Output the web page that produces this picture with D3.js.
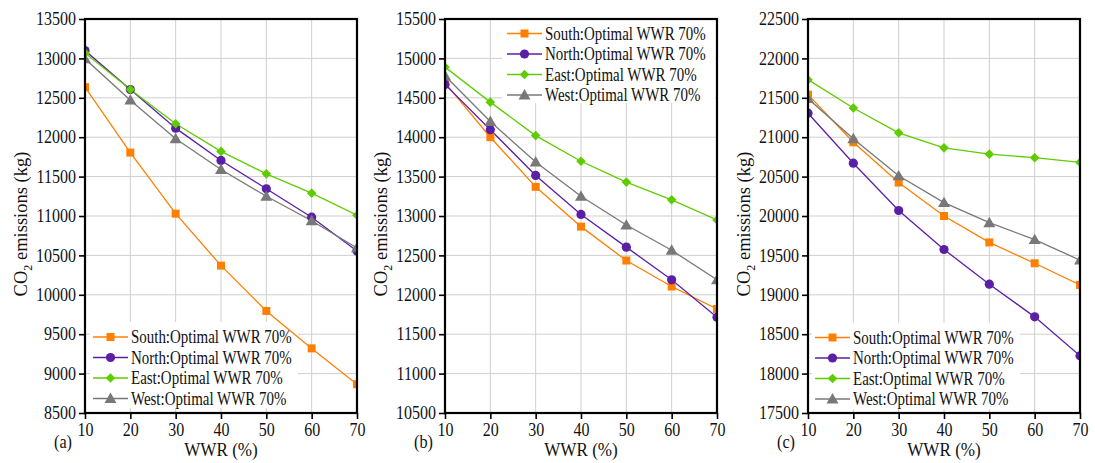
<!DOCTYPE html>
<html>
<head>
<meta charset="utf-8">
<script src="https://cdn.jsdelivr.net/npm/d3@7"></script>
<style>
  body { margin: 0; background: #fff; }
</style>
</head>
<body>
<svg id="chart" width="1095" height="463"></svg>
<script>
// WWR on the x axis
const wwr = [10, 20, 30, 40, 50, 60, 70];

// panel (a)
const southA = [12635, 11805, 11030, 10370, 9795, 9320, 8865];
const northA = [13100, 12605, 12115, 11705, 11345, 10985, 10555];
const eastA  = [13070, 12605, 12170, 11820, 11535, 11290, 11010];
const westA  = [12995, 12470, 11980, 11590, 11250, 10940, 10595];

// panel (b)
const southB = [14690, 14000, 13370, 12865, 12435, 12105, 11820];
const northB = [14670, 14095, 13515, 13020, 12605, 12190, 11715];
const eastB  = [14890, 14445, 14020, 13695, 13430, 13205, 12950];
const westB  = [14780, 14200, 13685, 13250, 12885, 12565, 12190];

// panel (c)
const southC = [21540, 20935, 20425, 20000, 19665, 19400, 19125];
const northC = [21305, 20670, 20070, 19575, 19135, 18720, 18225];
const eastC  = [21730, 21370, 21055, 20865, 20785, 20740, 20680];
const westC  = [21490, 20980, 20510, 20170, 19915, 19700, 19440];

const yDomainA = [8500, 13500];
const yDomainB = [10500, 15500];
const yDomainC = [17500, 22500];

const seriesNames = ['South:Optimal WWR 70%', 'North:Optimal WWR 70%', 'East:Optimal WWR 70%', 'West:Optimal WWR 70%'];
const seriesColors = ['#ff7f00', '#5b1fa6', '#5fcc00', '#787878'];
const seriesShapes = ['square', 'circle', 'diamond', 'triangle'];

const panels = [
  { tag: '(a)', left: 85,  domain: yDomainA, data: [southA, northA, eastA, westA], legend: { x: 93,  y: 337, box: [90, 322, 208, 86] } },
  { tag: '(b)', left: 445, domain: yDomainB, data: [southB, northB, eastB, westB], legend: { x: 507, y: 33.5, box: [502, 20, 213, 83] } },
  { tag: '(c)', left: 808, domain: yDomainC, data: [southC, northC, eastC, westC], legend: { x: 815, y: 337.5, box: [812, 323, 208, 86] } }
];

const plotW = 272, plotTop = 19, plotBottom = 413;
const svg = d3.select('#chart');

// serif font set inline, then squeeze horizontally (the source picture is a bit compressed)
function serifText(sel, size, f) {
  sel.style('font-family', 'Liberation Serif').style('font-size', size + 'px').style('fill', '#111');
  sel.each(function () {
    const l = this.getComputedTextLength();
    if (f) {
      this.setAttribute('textLength', l * f);
      this.setAttribute('lengthAdjust', 'spacingAndGlyphs');
    }
  });
}

function marker(g, shape, color) {
  if (shape === 'circle') {
    g.append('circle').attr('r', 4.6).attr('fill', color);
  } else if (shape === 'square') {
    g.append('path').attr('d', d3.symbol(d3.symbolSquare, 64)()).attr('fill', color);
  } else if (shape === 'diamond') {
    g.append('path').attr('d', d3.symbol(d3.symbolSquare, 46)()).attr('transform', 'rotate(45)').attr('fill', color);
  } else {
    g.append('path').attr('d', d3.symbol(d3.symbolTriangle, 62)()).attr('transform', 'translate(0,1)').attr('fill', color);
  }
}

panels.forEach((p, pi) => {
  const x = d3.scaleLinear().domain([10, 70]).range([p.left, p.left + plotW]);
  const y = d3.scaleLinear().domain(p.domain).range([plotBottom, plotTop]);
  const yTicks = d3.range(p.domain[0], p.domain[1] + 1, 500);

  const g = svg.append('g');

  // clip for data marks
  const clipId = 'clip' + pi;
  svg.append('clipPath').attr('id', clipId)
    .append('rect').attr('x', p.left).attr('y', plotTop).attr('width', plotW).attr('height', plotBottom - plotTop);

  // grid
  g.append('g').selectAll('line').data(yTicks.slice(1, -1)).join('line')
    .attr('x1', p.left).attr('x2', p.left + plotW)
    .attr('y1', d => y(d)).attr('y2', d => y(d))
    .attr('stroke', '#cfcfcf').attr('stroke-width', 1);
  g.append('g').selectAll('line').data(wwr.slice(1, -1)).join('line')
    .attr('x1', d => x(d)).attr('x2', d => x(d))
    .attr('y1', plotTop).attr('y2', plotBottom)
    .attr('stroke', '#cfcfcf').attr('stroke-width', 1);

  // axes
  const yAxis = g.append('g').attr('transform', `translate(${p.left},0)`)
    .call(d3.axisLeft(y).tickValues(yTicks).tickSize(6).tickPadding(3).tickFormat(d3.format('d')));
  const xAxis = g.append('g').attr('transform', `translate(0,${plotBottom})`)
    .call(d3.axisBottom(x).tickValues(wwr).tickSize(6).tickPadding(4).tickFormat(d3.format('d')));
  [yAxis, xAxis].forEach(a => {
    a.select('.domain').remove();
    a.selectAll('line').attr('stroke', '#000').attr('stroke-width', 1.6);
    serifText(a.selectAll('text'), 18, 0.89);
  });

  // legend (box and entries sit under the data, like the source)
  const L = p.legend;
  g.append('rect').attr('x', L.box[0]).attr('y', L.box[1]).attr('width', L.box[2]).attr('height', L.box[3]).attr('fill', '#fff');
  seriesNames.forEach((name, si) => {
    const ly = L.y + si * 20.5;
    const lg = g.append('g');
    lg.append('line').attr('x1', L.x).attr('x2', L.x + 35).attr('y1', ly).attr('y2', ly)
      .attr('stroke', seriesColors[si]).attr('stroke-width', 1.6);
    marker(lg.append('g').attr('transform', `translate(${L.x + 17.5},${ly})`), seriesShapes[si], seriesColors[si]);
    const t = lg.append('text').attr('x', L.x + 38).attr('y', ly + 6).text(name);
    serifText(t, 18, 0.83);
  });

  // series
  const line = d3.line().x((d, i) => x(wwr[i])).y(d => y(d));
  const dataG = g.append('g').attr('clip-path', `url(#${clipId})`);
  p.data.forEach((vals, si) => {
    dataG.append('path').datum(vals).attr('d', line)
      .attr('fill', 'none').attr('stroke', seriesColors[si]).attr('stroke-width', 1.3);
  });
  p.data.forEach((vals, si) => {
    vals.forEach((v, i) => {
      const m = dataG.append('g').attr('transform', `translate(${x(wwr[i])},${y(v)})`);
      marker(m, seriesShapes[si], seriesColors[si]);
    });
  });

  // frame
  g.append('rect').attr('x', p.left).attr('y', plotTop).attr('width', plotW).attr('height', plotBottom - plotTop)
    .attr('fill', 'none').attr('stroke', '#000').attr('stroke-width', 2.2);

  // axis titles
  const xt = g.append('text').attr('x', p.left + plotW / 2).attr('y', 456).attr('text-anchor', 'middle').text('WWR (%)');
  serifText(xt, 19, 0.9);
  const tagT = g.append('text').attr('x', p.left - 31).attr('y', 448).text(p.tag);
  serifText(tagT, 18, 0.9);

  const yl = g.append('text').attr('text-anchor', 'middle')
    .attr('transform', `translate(${p.left - 58},224) rotate(-90)`);
  yl.append('tspan').text('CO');
  yl.append('tspan').style('font-size', '12px').attr('dy', 5).text('2');
  yl.append('tspan').attr('dy', -5).text(' emissions (kg)');
  serifText(yl, 18.5, 0);
});
</script>
</body>
</html>
